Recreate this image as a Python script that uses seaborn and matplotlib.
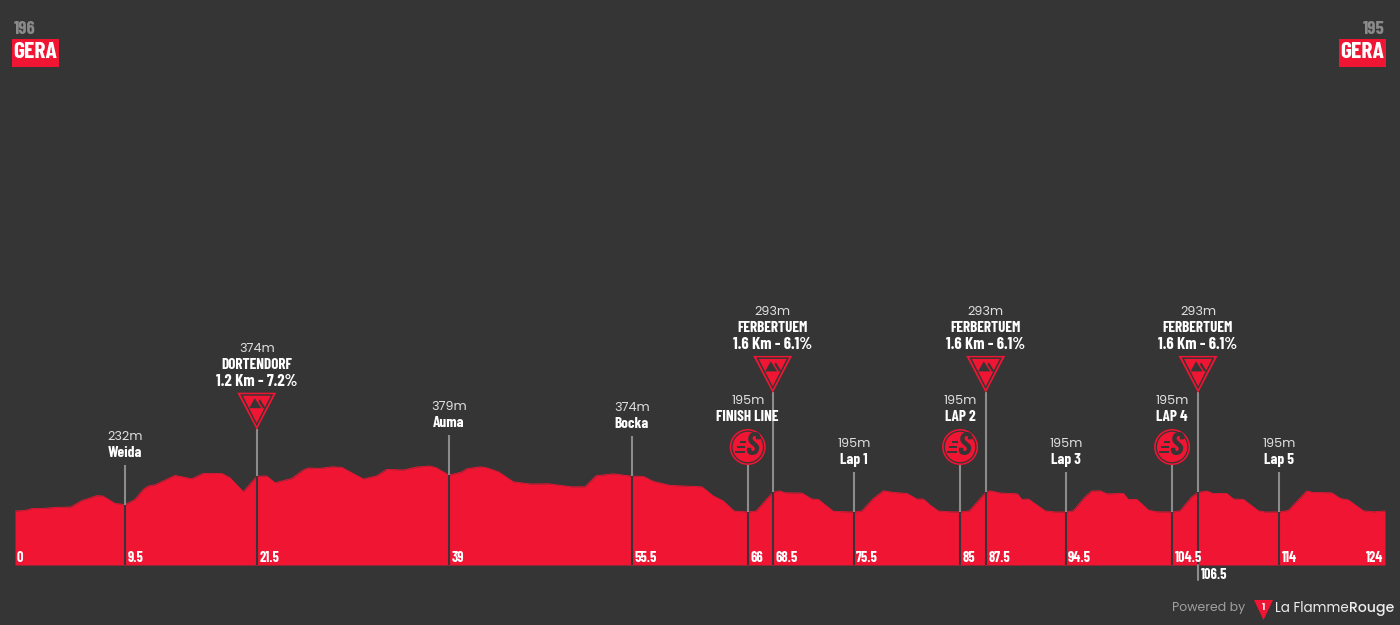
import matplotlib
matplotlib.use("Agg")
import logging
import matplotlib.pyplot as plt
import seaborn as sns
import pandas as pd
from matplotlib.patches import Polygon, Circle, Rectangle
from matplotlib.transforms import IdentityTransform

logging.getLogger("matplotlib.font_manager").setLevel(logging.ERROR)

# Route profile: distance (km) and altitude (m)
route_km = [0, 0.91, 1.51, 2.53, 3.62, 5.04, 6.04, 6.61, 7.39, 7.94, 9.05, 9.96, 10.86, 11.61, 12.07,
            12.67, 14.48, 15.99, 17.04, 17.95, 18.71, 19.46, 20.66, 21.88, 22.78, 23.53, 25.05, 26.09,
            26.55, 27.61, 28.67, 29.57, 30.32, 31.53, 32.74, 33.64, 35.15, 36.36, 37.56, 38.17, 39.27,
            40.43, 40.88, 42.09, 42.69, 43.75, 45.10, 46.62, 48.27, 50.39, 51.59, 52.59, 54.15, 55.82,
            56.87, 57.77, 59.29, 62.16, 63.21, 64.11, 65.08, 66.32, 67.07, 68.58, 69.18, 69.70, 71.21,
            72.11, 72.71, 74.07, 75.92, 76.64, 77.69, 78.59, 79.50, 80.71, 81.62, 82.21, 82.82, 83.57,
            84.63, 85.54, 86.38, 87.86, 88.25, 89.16, 90.72, 91.13, 91.72, 93.23, 94.13, 95.10, 95.79,
            96.85, 97.45, 98.21, 98.81, 100.32, 100.77, 101.53, 102.58, 103.34, 104.73, 105.45, 106.51,
            107.08, 107.87, 108.41, 109.67, 110.27, 111.18, 112.54, 113.14, 114.41, 115.25, 116.91,
            117.51, 119.18, 119.93, 120.69, 122.04, 122.95, 124]
elevation_m = [200, 203, 212, 213, 218, 220, 252, 262, 277, 275, 238, 232, 258, 308, 325,
               331, 378, 361, 388, 388, 388, 366, 296, 374, 375, 341, 363, 405,
               415, 413, 421, 418, 396, 360, 376, 408, 405, 420, 425, 415, 379,
               395, 411, 421, 416, 396, 346, 335, 336, 321, 321, 376, 386, 374,
               373, 348, 328, 321, 275, 250, 200, 195, 200, 293, 301, 291, 290,
               260, 258, 198, 195, 200, 263, 301, 293, 288, 260, 260, 230, 200,
               196, 195, 201, 293, 301, 290, 286, 258, 260, 201, 195, 195, 201,
               271, 300, 301, 286, 288, 258, 258, 205, 196, 195, 201, 271,
               293, 300, 288, 288, 260, 258, 201, 195, 195, 203, 300,
               293, 291, 263, 255, 201, 196, 200]

# Waypoints along the route
stop_km = [9.96, 21.88, 39.27, 55.82, 66.32, 68.58, 75.92, 85.54, 87.86, 95.10, 104.73, 107.08, 114.41]
stop_elev = [232, 374, 379, 374, 195, 293, 195, 195, 293, 195, 195, 293, 195]
stop_labels = ["9.5", "21.5", "39", "55.5", "66", "68.5", "75.5", "85", "87.5", "94.5", "104.5", "106.5", "114"]
stop_names = ["Weida", "DORTENDORF\n1.2 Km - 7.2%", "Auma", "Bocka", "FINISH LINE",
              "FERBERTUEM\n1.6 Km - 6.1%", "Lap 1", "LAP 2", "FERBERTUEM\n1.6 Km - 6.1%",
              "Lap 3", "LAP 4", "FERBERTUEM\n1.6 Km - 6.1%", "Lap 5"]
stop_kinds = ["town", "climb", "town", "town", "sprint", "climb_high", "town", "sprint", "climb_high",
              "town", "sprint", "climb_high", "town"]
start_alt, start_name = "196", "GERA"
end_alt, end_name = "195", "GERA"

BG = "#353535"
RED = "#EF1533"
GREY = "#8C8C8C"
DARK = "#383338"
BOLD = ["Barlow Condensed", "Roboto", "DejaVu Sans"]
THIN = ["Poppins", "Lato", "DejaVu Sans"]

sns.set_theme(style="dark", rc={"figure.facecolor": BG, "axes.facecolor": BG})
fig = plt.figure(figsize=(14, 6.25), dpi=100)
ax = fig.add_axes([15 / 1400, 60 / 625, 1370 / 1400, 565 / 625])
base_m = -70
ax.set_xlim(0, 124)
ax.set_ylim(base_m, 2755)
ax.axis("off")

profile = pd.DataFrame({"km": route_km, "m": elevation_m})
ax.fill_between(profile["km"], base_m, profile["m"], color=RED, lw=0, zorder=1)
sns.lineplot(data=profile, x="km", y="m", color=RED, lw=0.6, ax=ax, zorder=1, legend=False)


def to_px(km, m):
    """Position of a data point, in pixels counted from the top-left corner."""
    x, y = ax.transData.transform((km, m))
    return x, 625 - y


def put(x, y, s, **kw):
    kw.setdefault("ha", "center")
    kw.setdefault("va", "center")
    kw.setdefault("color", "white")
    return fig.text(x, 625 - y, s, transform=IdentityTransform(), **kw)


def shape(pts, color, z=5):
    fig.add_artist(Polygon([(x, 625 - y) for x, y in pts], closed=True, facecolor=color, edgecolor="none",
                           transform=IdentityTransform(), zorder=z))


def name_text(x, y, s, size=11):
    put(x, y, s, family=BOLD, weight="bold", fontsize=size, zorder=6)


def alt_text(x, y, m):
    put(x, y, f"{m}m", family=THIN, weight="normal", fontsize=9.2, color="#DDDDDD", zorder=6)


def climb_icon(x, a):
    shape([(x - 19.5, a - 36.5), (x + 19.5, a - 36.5), (x, a + 0.5)], RED)
    shape([(x - 16.5, a - 35), (x + 16.5, a - 35), (x, a - 3)], BG, 6)
    shape([(x - 14, a - 33.5), (x + 14, a - 33.5), (x, a - 6)], RED, 7)
    shape([(x - 2, a - 31), (x + 4.5, a - 21), (x - 7.5, a - 21)], BG, 8)
    shape([(x + 3.2, a - 30), (x + 8.7, a - 21), (x + 6.2, a - 21), (x + 1.8, a - 28)], BG, 8)


def sprint_icon(x, cy):
    tr = IdentityTransform()
    fig.add_artist(Circle((x, 625 - cy), 18, facecolor=RED, edgecolor="none", transform=tr, zorder=5))
    fig.add_artist(Circle((x, 625 - cy), 15.8, facecolor=RED, edgecolor=BG, lw=0.9, transform=tr, zorder=6))
    put(x + 4, cy - 0.5, "S", family=BOLD, weight="bold", style="italic", fontsize=23, color=BG, zorder=7)
    for dy, x0, x1 in [(-5, -8, -2), (0, -11, -3), (5, -13, -3)]:
        fig.add_artist(Rectangle((x + x0, 625 - cy - dy - 1), x1 - x0, 2.2, facecolor=BG, edgecolor="none",
                                 transform=tr, zorder=7))


for km, m, lab, nm, kind in zip(stop_km, stop_elev, stop_labels, stop_names, stop_kinds):
    x, y = to_px(km, m)
    rise = {"town": 40, "climb": 47, "sprint": 47, "climb_high": 100}[kind]
    top = y - rise
    px_m = ax.transData.transform((0, 1))[1] - ax.transData.transform((0, 0))[1]
    ax.vlines(km, m, m + rise / px_m, color=GREY, lw=1.5, zorder=3)
    ax.vlines(km, base_m, m, color=DARK, lw=1.5, zorder=3)
    if kind == "town":
        name_text(x, top - 12, nm)
        alt_text(x, top - 28, m)
    elif kind == "sprint":
        sprint_icon(x, top - 18)
        name_text(x, top - 48, nm)
        alt_text(x, top - 64, m)
    else:
        climb_icon(x, top)
        l1, l2 = nm.split("\n")
        name_text(x, top - 48, l2, size=12)
        name_text(x, top - 64, l1)
        alt_text(x, top - 80, m)
    if lab == "106.5":
        # This label would collide with its neighbour, so it hangs below the baseline
        ax.plot([km, km], [base_m, base_m - 15 * 5], color=GREY, lw=1.5, clip_on=False, zorder=3)
        put(x + 3, 575, lab, ha="left", family=BOLD, weight="bold", fontsize=10.4)
    else:
        put(x + 2.5, 558.5, lab, ha="left", family=BOLD, weight="bold", fontsize=10.4, zorder=6)

put(17, 558.5, "0", ha="left", family=BOLD, weight="bold", fontsize=10.4, zorder=6)
put(1383, 558.5, "124", ha="right", family=BOLD, weight="bold", fontsize=10.4, zorder=6)

# Start and finish town tags
fig.add_artist(Rectangle((12, 625 - 67), 47, 28, facecolor=RED, edgecolor="none", transform=IdentityTransform()))
fig.add_artist(Rectangle((1339, 625 - 67), 47, 28, facecolor=RED, edgecolor="none", transform=IdentityTransform()))
put(14, 29, start_alt, ha="left", family=BOLD, weight="bold", fontsize=13.5, color="#8A8A8A")
put(1385, 29, end_alt, ha="right", family=BOLD, weight="bold", fontsize=13.5, color="#8A8A8A")
put(35.5, 52.5, start_name, family=BOLD, weight="bold", fontsize=17)
put(1362.5, 52.5, end_name, family=BOLD, weight="bold", fontsize=17)

# Credit line
put(1172, 608, "Powered by", ha="left", family=THIN, weight="normal", fontsize=9, color="#A0A0A0")
shape([(1254, 600), (1273, 600), (1263.5, 620)], RED)
put(1263.5, 607, "1", family=THIN, weight="bold", fontsize=6.5, zorder=6)
t = put(1275, 608, "La Flamme", ha="left", family=THIN, weight="normal", fontsize=9.7, color="#EDEDED")
fig.canvas.draw()
bb = t.get_window_extent()
put(bb.x1, 608, "Rouge", ha="left", family=THIN, weight="medium", fontsize=10.2, color="#EDEDED")

fig.savefig("out.png", dpi=100, facecolor=BG)
